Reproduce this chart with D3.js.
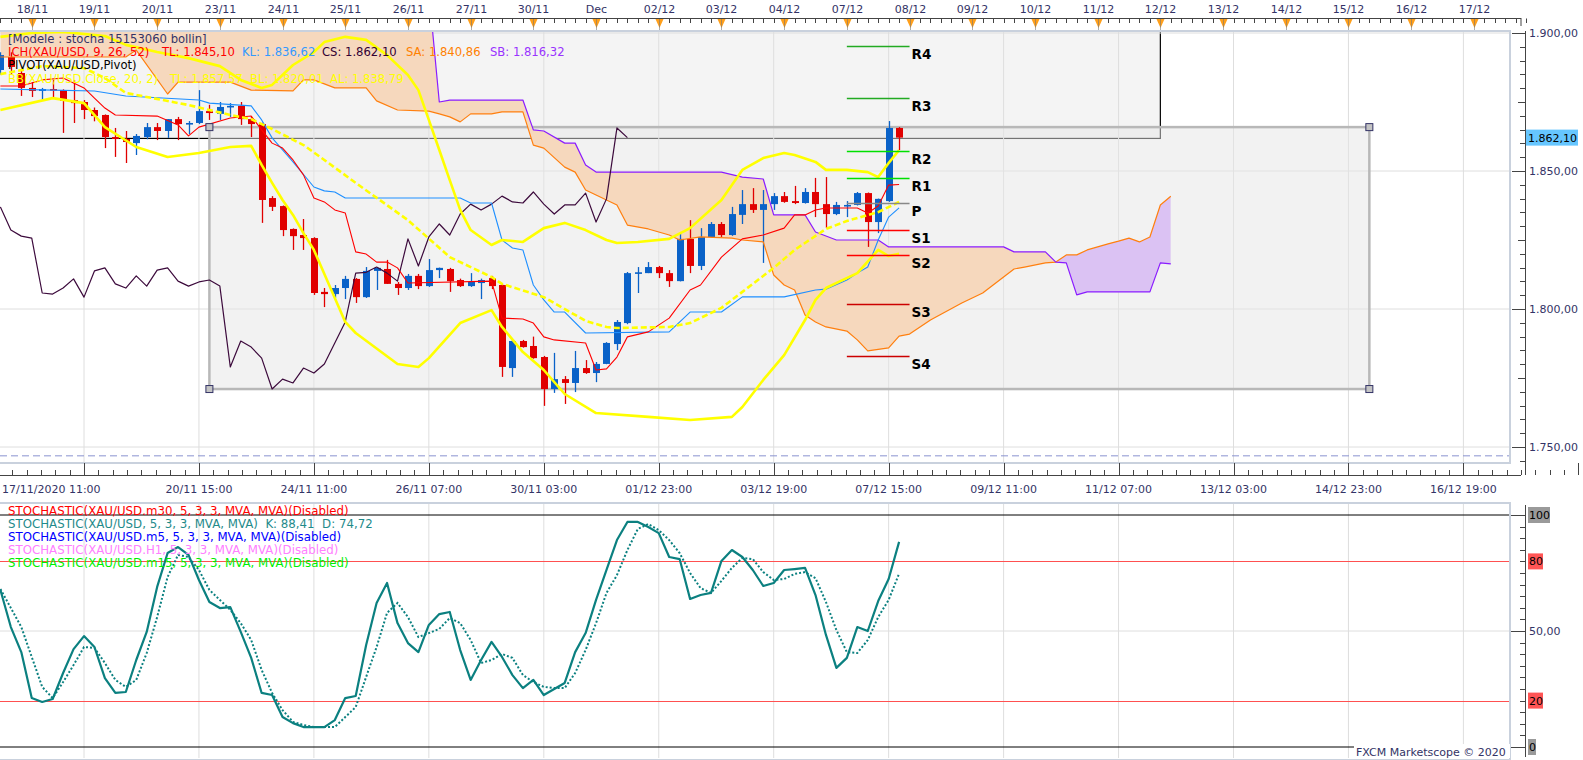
<!DOCTYPE html>
<html>
<head>
<meta charset="utf-8">
<script src="https://cdn.jsdelivr.net/npm/d3@7"></script>
<style>
  body { margin: 0; background: #fff; }
  svg { display: block; }
  text { font-family: "DejaVu Sans", Verdana, sans-serif; }
</style>
</head>
<body>
<svg id="chart" width="1583" height="760"></svg>
<script>
// XAU/USD 4h bars. Bar index 0 sits on the first vertical grid line.
const firstBar = -8;
const opens = [1886.6, 1891.3, 1885.5, 1880.1, 1879.0, 1879.7, 1879.3, 1875.7,
  1875.0, 1872.1, 1870.3, 1862.3, 1861.6, 1860.1, 1862.3, 1865.9, 1864.5, 1868.8,
  1867.0, 1867.4, 1871.7, 1870.7, 1873.2, 1873.6, 1868.8, 1867.0, 1840.2, 1837.3,
  1829.0, 1826.8, 1825.7, 1806.2, 1805.4, 1807.6, 1810.9, 1804.3, 1813.8, 1814.5,
  1809.1, 1807.6, 1812.0, 1808.3, 1814.1, 1814.5, 1810.5, 1808.3, 1809.4, 1811.2,
  1808.7, 1778.6, 1788.4, 1786.6, 1782.6, 1771.0, 1774.6, 1773.2, 1778.6, 1776.8,
  1780.1, 1787.3, 1794.9, 1813.0, 1813.0, 1815.2, 1813.0, 1810.1, 1825.4, 1815.6,
  1826.1, 1830.8, 1826.8, 1834.1, 1838.0, 1835.9, 1838.0, 1840.9, 1839.1, 1838.4,
  1842.4, 1838.0, 1834.4, 1837.5, 1837.7, 1842.0, 1831.5, 1839.1, 1865.6];
const highs = [1893.0, 1893.0, 1886.6, 1882.2, 1880.1, 1883.0, 1879.6, 1883.0,
  1875.7, 1873.0, 1870.5, 1865.6, 1864.5, 1863.4, 1867.4, 1867.4, 1868.8, 1869.6,
  1868.1, 1879.3, 1874.0, 1875.0, 1874.6, 1875.0, 1869.6, 1867.5, 1840.9, 1837.5,
  1829.2, 1832.6, 1826.0, 1807.6, 1808.7, 1812.0, 1811.2, 1815.2, 1815.2, 1817.8,
  1809.8, 1812.7, 1812.7, 1818.1, 1815.0, 1814.9, 1811.0, 1813.0, 1811.0, 1812.0,
  1809.0, 1788.6, 1788.8, 1790.0, 1783.0, 1784.1, 1775.7, 1784.8, 1781.5, 1780.8,
  1788.0, 1796.0, 1813.4, 1815.2, 1817.0, 1815.6, 1814.1, 1827.5, 1832.2, 1829.3,
  1831.5, 1831.5, 1837.0, 1843.1, 1843.8, 1843.1, 1842.0, 1842.4, 1844.6, 1843.8,
  1847.5, 1847.8, 1838.8, 1839.1, 1842.4, 1842.2, 1840.0, 1868.1, 1865.9];
const lows = [1885.0, 1885.0, 1877.2, 1876.8, 1875.7, 1876.4, 1863.8, 1867.4,
  1868.8, 1868.0, 1858.3, 1855.1, 1852.9, 1855.8, 1861.5, 1861.2, 1862.0, 1861.2,
  1863.4, 1867.0, 1868.5, 1868.5, 1869.6, 1866.7, 1862.3, 1831.2, 1835.5, 1826.4,
  1821.4, 1821.4, 1805.1, 1800.7, 1804.0, 1803.6, 1802.2, 1804.0, 1806.9, 1809.1,
  1805.1, 1806.9, 1807.2, 1808.0, 1811.2, 1806.2, 1808.0, 1808.0, 1803.6, 1807.2,
  1775.4, 1775.4, 1786.0, 1782.0, 1764.9, 1769.6, 1765.6, 1769.9, 1776.5, 1773.5,
  1780.0, 1785.1, 1794.5, 1805.8, 1813.0, 1811.2, 1808.0, 1810.0, 1813.0, 1814.1,
  1826.0, 1826.1, 1826.5, 1830.8, 1834.8, 1816.7, 1835.9, 1838.5, 1838.0, 1838.2,
  1833.3, 1829.3, 1834.0, 1833.3, 1837.5, 1822.5, 1827.5, 1838.8, 1857.6];
const closes = [1892.0, 1887.7, 1880.1, 1879.0, 1879.7, 1879.3, 1875.4, 1874.6,
  1872.1, 1869.9, 1862.3, 1861.6, 1860.5, 1862.7, 1865.9, 1864.5, 1868.8, 1867.0,
  1867.4, 1871.7, 1871.0, 1873.2, 1873.6, 1868.8, 1867.0, 1839.5, 1837.0, 1828.6,
  1826.4, 1825.7, 1805.8, 1805.4, 1807.6, 1810.9, 1804.3, 1813.8, 1814.9, 1809.1,
  1807.6, 1812.0, 1808.3, 1814.1, 1814.9, 1810.1, 1808.3, 1809.8, 1810.5, 1808.3,
  1779.0, 1788.4, 1786.2, 1782.2, 1771.0, 1774.6, 1773.2, 1778.6, 1776.8, 1780.1,
  1787.7, 1795.3, 1813.0, 1813.3, 1815.2, 1813.0, 1810.1, 1825.4, 1815.6, 1826.1,
  1830.8, 1826.8, 1834.4, 1838.0, 1835.9, 1838.0, 1840.9, 1838.8, 1838.4, 1842.4,
  1838.0, 1834.4, 1837.7, 1837.7, 1842.0, 1831.5, 1839.9, 1865.6, 1862.1];

// Ichimoku lines as [bar, price]
const tenkan = [[-8,1880.8],[-6,1880.8],[-4,1883.0],[-2,1883.7],[0,1880.1],[1,1876.4],[2,1872.8],[3,1870.3],
  [7,1869.9],[9,1866.7],[10,1862.7],[11,1865.9],[14,1869.2],[16,1869.9],[17,1864.9],[18,1860.1],[19,1858.3],
  [20,1854.0],[21,1848.6],[22,1840.2],[23,1838.8],[24,1835.9],[25,1834.8],[26,1820.7],[27,1819.9],[28,1817.0],
  [29,1817.0],[30,1814.9],[31,1809.4],[39,1810.1],[40,1796.7],[42,1796.4],[43,1794.9],[44,1789.9],[45,1788.8],
  [48,1787.7],[49,1777.9],[50,1778.3],[51,1782.6],[52,1789.9],[54,1791.7],[56,1796.7],[58,1806.9],[59,1808.7],
  [61,1818.8],[63,1825.4],[65,1826.8],[67,1829.3],[68,1834.1],[69,1834.1],[70,1835.9],[71,1836.6],[74,1836.6],
  [75,1834.8],[76,1837.3],[77,1844.9],[78,1845.10]];
const kijun = [[-8,1879.7],[-3,1879.3],[1,1879.0],[4,1877.2],[11,1875.7],[12,1874.6],[16,1873.6],[17,1868.5],
  [18,1862.0],[20,1853.3],[22,1844.2],[23,1842.8],[24,1842.4],[25,1840.2],[36,1840.2],[37,1838.4],[39,1838.4],
  [40,1825.0],[41,1822.1],[42,1821.4],[43,1808.7],[44,1803.3],[45,1798.9],[46,1798.9],[48,1791.3],[56,1791.7],
  [58,1798.9],[61,1798.9],[63,1804.4],[67,1804.4],[70,1806.9],[71,1807.2],[73,1810.5],[74,1813.0],[75,1815.2],
  [76,1825.0],[77,1833.3],[78,1836.62]];
const senkouA = [[-8,1891.3],[4,1891.3],[5,1893.8],[8,1877.9],[9,1882.2],[14,1882.2],[16,1879.3],[20,1879.0],
  [21,1883.0],[22,1883.0],[24,1880.1],[27,1880.1],[28,1875.4],[30,1872.1],[33,1871.7],[34,1870.7],[35,1869.6],
  [36,1867.8],[37,1870.7],[39,1870.7],[40,1871.4],[42,1871.4],[43,1859.4],[44,1858.3],[46,1851.4],[47,1849.6],
  [48,1843.1],[49,1841.3],[50,1839.5],[51,1837.7],[52,1830.4],[54,1829.0],[56,1826.8],[57,1825.0],[59,1826.1],
  [62,1825.7],[63,1825.0],[65,1824.3],[66,1812.3],[67,1808.7],[68,1806.9],[69,1797.8],[70,1795.3],[71,1793.5],
  [73,1792.0],[74,1788.8],[75,1784.8],[77,1785.9],[78,1790.2],[79,1790.9],[81,1796.0],[84,1802.2],[86,1805.8],
  [88,1811.6],[89,1814.5],[90,1815.2],[92,1816.7],[93,1817.0],[94,1819.6],[95,1819.6],[96,1821.4],[97,1822.5],
  [98,1823.6],[99,1824.6],[100,1825.7],[101,1824.3],[102,1826.1],[103,1837.7],[104,1840.86]];
const senkouB = [[-8,1915],[33,1915],[34,1875.0],[35,1875.7],[42,1875.7],[43,1864.9],[44,1864.5],[46,1860.1],
  [47,1860.1],[48,1852.2],[49,1849.6],[61,1849.6],[63,1847.8],[65,1847.1],[66,1834.1],[69,1834.1],[70,1827.9],
  [72,1825.0],[76,1825.0],[77,1822.5],[88,1822.5],[89,1820.7],[92,1820.7],[93,1817.0],[94,1816.7],[95,1805.1],
  [96,1806.2],[102,1806.2],[103,1816.7],[104,1816.32]];

// Bollinger bands (20, 2) as [bar, price]
const bbUpper = [[-8,1898.6],[-5,1900.0],[-2,1900.4],[2,1898.9],[4,1895.7],[7,1893.1],[10,1890.9],[13,1888.0],
  [15,1883.0],[17,1880.1],[18,1881.2],[20,1888.4],[22,1893.1],[23,1896.7],[25,1898.6],[27,1897.5],[29,1892.0],
  [31,1884.8],[32,1879.3],[33,1868.5],[34,1857.6],[35,1846.7],[36,1835.9],[37,1828.6],[39,1823.2],[40,1825.0],
  [42,1824.3],[44,1829.3],[46,1831.2],[48,1828.6],[50,1825.0],[51,1823.9],[53,1824.3],[56,1825.4],[58,1829.3],
  [61,1839.5],[63,1850.4],[65,1854.7],[67,1856.5],[68,1855.8],[70,1853.3],[71,1850.4],[73,1850.4],[75,1849.6],
  [76,1847.8],[77,1852.9],[78,1857.57]];
const bbMiddle = [[-8,1885.1],[-4,1888.0],[0,1887.3],[2,1883.7],[4,1878.3],[10,1873.9],[12,1872.1],[14,1870.3],
  [16,1868.8],[18,1865.2],[21,1859.4],[23,1854.0],[26,1845.7],[31,1832.2],[35,1818.8],[39,1811.6],[40,1809.1],
  [44,1804.3],[48,1795.7],[50,1793.5],[51,1793.1],[56,1793.5],[58,1794.9],[61,1800.4],[63,1806.2],[66,1814.9],
  [68,1821.4],[71,1829.0],[73,1831.9],[76,1835.1],[78,1838.79]];
const bbLower = [[-8,1872.1],[-3,1876.4],[0,1874.6],[2,1865.9],[5,1858.7],[8,1855.1],[11,1856.5],[14,1858.7],
  [16,1859.1],[17,1852.2],[18,1845.7],[19,1839.5],[20,1834.1],[21,1827.5],[22,1821.4],[25,1795.3],[26,1791.3],
  [30,1780.1],[32,1779.0],[33,1782.2],[36,1794.9],[39,1799.6],[40,1793.5],[42,1784.4],[44,1777.9],[46,1769.2],
  [49,1762.3],[54,1760.9],[58,1759.8],[62,1760.9],[63,1764.5],[65,1774.3],[67,1783.3],[69,1796.0],[70,1803.3],
  [71,1807.6],[74,1813.0],[76,1821.4],[77,1819.2],[78,1820.01]];

// Pivot levels for the 07/12 session
const pivotNames = ['R4', 'R3', 'R2', 'R1', 'P', 'S1', 'S2', 'S3', 'S4'];
const pivotLevels = [1895.3, 1876.6, 1857.2, 1847.4, 1838.3, 1828.6, 1819.6, 1801.8, 1783.0];
const pivotBars = [73, 79];

// user drawings: [bar from, bar to, price high, price low]
const drawnBoxes = [[-20, 103, 1910, 1861.8], [12, 123, 1865.9, 1771.0]];
const guideLevel = 1746.8;

// Stochastic (5,3,3) from bar -8 to 78
const stochK = [67.7,51.7,40.9,21.1,19.4,20.7,31.9,42.2,
  47.8,43.1,29.7,23.3,23.7,37.5,49.6,69.0,83.6,86.2,
  82.8,72.0,62.5,59.9,60.3,49.6,38.4,23.3,22.4,12.9,
  10.3,8.6,8.6,8.6,11.6,21.1,22.0,44.0,62.1,70.7,
  53.4,44.8,40.9,52.6,57.3,58.2,41.8,28.9,37.5,45.3,
  38.8,31.0,25.4,28.9,22.4,25.0,27.6,40.9,49.1,63.4,
  76.3,89.2,97.0,97.0,94.8,92.2,81.9,81.0,63.8,65.5,
  66.4,80.2,84.9,81.9,76.3,69.4,70.7,76.3,76.7,77.2,
  65.5,48.3,34.1,38.4,51.7,50.0,62.9,72.4,88.41];
const stochD = [68.1,59.9,51.7,38.8,25.9,21.1,28.0,35.3,
  43.1,42.7,36.2,28.9,25.9,28.9,40.5,56.0,73.3,82.8,
  81.9,76.3,67.7,63.4,59.1,53.4,46.1,33.2,23.3,15.9,
  10.8,9.5,8.6,8.6,8.6,12.9,17.2,30.2,43.1,57.8,
  62.1,56.0,47.4,49.1,50.9,55.6,53.4,46.1,36.2,37.5,
  40.1,38.4,31.0,28.0,25.9,25.4,25.4,31.9,41.8,53.4,
  66.4,74.1,84.9,94.0,96.1,93.5,89.2,83.6,75.0,68.5,
  66.4,71.6,77.2,81.5,81.0,75.4,72.0,72.4,74.6,75.4,
  72.8,62.5,50.4,40.9,40.5,46.1,56.0,63.4,74.72];
const stochLevels = [20, 80];

// axis labels
const dayLabels = ['18/11','19/11','20/11','23/11','24/11','25/11','26/11','27/11','30/11','Dec',
  '02/12','03/12','04/12','07/12','08/12','09/12','10/12','11/12','12/12','13/12','14/12','15/12','16/12','17/12'];
const firstDayBar = -5;
const timeLabels = ['20/11 15:00','24/11 11:00','26/11 07:00','30/11 03:00','01/12 23:00','03/12 19:00',
  '07/12 15:00','09/12 11:00','11/12 07:00','13/12 03:00','14/12 23:00','16/12 19:00'];
const startLabel = '17/11/2020 11:00';
const priceTicks = [1750, 1800, 1850, 1900];

const lastBar = firstBar + closes.length - 1;
const num = d3.formatLocale({decimal: ',', thousands: '.', grouping: [3], currency: ['', '']});
const fmtPrice = num.format(',.2f');
const fmtVal = num.format('.2f');
const gap = '\u00a0\u00a0';

const x = d3.scaleLinear().domain([0, 132]).range([84, 84 + 132 * 10.45]);
const y = d3.scaleLinear().domain([1750, 1900]).range([447, 33]);
const ys = d3.scaleLinear().domain([0, 100]).range([747, 515]);

const navy = '#333366';
const svg = d3.select('#chart');
const defs = svg.append('defs');
defs.append('clipPath').attr('id', 'clipMain').append('rect')
  .attr('x', 0).attr('y', 31).attr('width', 1510).attr('height', 432);
defs.append('clipPath').attr('id', 'clipSto').append('rect')
  .attr('x', 0).attr('y', 503).attr('width', 1510).attr('height', 255);

const priceLine = d3.line().x(d => x(d[0])).y(d => y(d[1]));

// ---------- top date axis ----------
const topAxis = svg.append('g');
topAxis.append('line').attr('x1', 0).attr('x2', 1521).attr('y1', 18.5).attr('y2', 18.5).attr('stroke', '#444');
topAxis.append('line').attr('x1', 1521).attr('x2', 1521).attr('y1', 18).attr('y2', 26).attr('stroke', '#444');
topAxis.selectAll('.minor').data(d3.range(firstBar, 139)).join('line')
  .attr('x1', d => Math.round(x(d)) + 0.5).attr('x2', d => Math.round(x(d)) + 0.5)
  .attr('y1', 18.5).attr('y2', 23).attr('stroke', '#444');
const dayMark = topAxis.selectAll('.day').data(dayLabels).join('g')
  .attr('transform', (d, i) => `translate(${Math.round(x(firstDayBar + 6 * i)) + 0.5},0)`);
dayMark.append('path').attr('d', 'M-4,19L4,19L0,28Z').attr('fill', '#ff9f1a');
dayMark.append('line').attr('y1', 19).attr('y2', 30).attr('stroke', '#777').attr('stroke-width', 0.6);
dayMark.append('text').attr('y', 13).attr('text-anchor', 'middle')
  .attr('font-size', 11).attr('fill', navy).text(d => d);

// ---------- main panel ----------
const plot = svg.append('g').attr('clip-path', 'url(#clipMain)');
const boxA = drawnBoxes[0], boxB = drawnBoxes[1];
plot.append('rect').attr('x', x(boxA[0])).attr('y', y(boxA[2]))
  .attr('width', x(boxA[1]) - x(boxA[0])).attr('height', y(boxA[3]) - y(boxA[2]))
  .attr('fill', '#f4f4f4').attr('stroke', '#000').attr('stroke-width', 1.2);

plot.selectAll('.vgrid').data(d3.range(0, 133, 11)).join('line')
  .attr('x1', d => x(d)).attr('x2', d => x(d)).attr('y1', 31).attr('y2', 463)
  .attr('stroke', '#dedede');
plot.selectAll('.hgrid').data(priceTicks).join('line')
  .attr('x1', 0).attr('x2', 1510).attr('y1', d => y(d)).attr('y2', d => y(d))
  .attr('stroke', '#dedede');

plot.append('rect').attr('x', x(boxB[0])).attr('y', y(boxB[2]))
  .attr('width', x(boxB[1]) - x(boxB[0])).attr('height', y(boxB[3]) - y(boxB[2]))
  .attr('fill', 'rgba(229,229,229,0.5)').attr('stroke', '#b8b8b8').attr('stroke-width', 2.5);

// Kumo cloud
const areaTo = lim => d3.area().x(d => x(d[0])).y0(d => y(d[1])).y1(y(lim));
defs.append('clipPath').attr('id', 'belowB').append('path').attr('d', areaTo(1700)(senkouB));
defs.append('clipPath').attr('id', 'aboveB').append('path').attr('d', areaTo(1960)(senkouB));
plot.append('g').attr('clip-path', 'url(#belowB)').append('path')
  .attr('d', areaTo(1960)(senkouA)).attr('fill', '#f6d8bd');
plot.append('g').attr('clip-path', 'url(#aboveB)').append('path')
  .attr('d', areaTo(1700)(senkouA)).attr('fill', '#dbc2f3');

// candles
const bars = opens.map((o, i) => ({k: firstBar + i, o, h: highs[i], l: lows[i], c: closes[i]}));
const candleColor = d => d.c >= d.o ? '#0a62c8' : '#e00000';
const candle = plot.append('g').selectAll('g').data(bars).join('g')
  .attr('transform', d => `translate(${Math.round(x(d.k))},0)`);
candle.append('line').attr('x1', 0.5).attr('x2', 0.5)
  .attr('y1', d => y(d.h)).attr('y2', d => y(d.l)).attr('stroke', candleColor).attr('stroke-width', 1.3);
candle.append('rect').attr('x', -3).attr('width', 7)
  .attr('y', d => y(Math.max(d.o, d.c)))
  .attr('height', d => Math.max(1.6, Math.abs(y(d.o) - y(d.c))))
  .attr('fill', candleColor);

// indicator lines
const chikou = bars.filter(b => b.k + 26 <= lastBar).map(b => [b.k, closes[b.k + 26 - firstBar]]);
const lines = [
  [senkouA, '#ff7f0e', 1.2, null],
  [senkouB, '#8a1cff', 1.2, null],
  [chikou, '#3c0a3c', 1.2, null],
  [kijun, '#1e8fff', 1.1, null],
  [tenkan, '#ff0000', 1.1, null],
  [bbUpper, '#ffff00', 2.6, null],
  [bbLower, '#ffff00', 2.6, null],
  [bbMiddle, '#ffff00', 2.6, '6,3']
];
plot.selectAll('.ind').data(lines).join('path')
  .attr('d', d => priceLine(d[0])).attr('fill', 'none')
  .attr('stroke', d => d[1]).attr('stroke-width', d => d[2])
  .attr('stroke-dasharray', d => d[3]).attr('stroke-linejoin', 'round');

// pivots
const pivotColor = ['#22aa22', '#22aa22', '#00e000', '#00e000', '#888888', '#ff0000', '#ff0000', '#cc0000', '#cc0000'];
const piv = plot.selectAll('.piv').data(pivotLevels).join('g');
piv.append('line').attr('x1', x(pivotBars[0])).attr('x2', x(pivotBars[1]))
  .attr('y1', d => Math.round(y(d)) + 0.5).attr('y2', d => Math.round(y(d)) + 0.5)
  .attr('stroke', (d, i) => pivotColor[i]).attr('stroke-width', 1.3);
piv.append('text').attr('x', x(pivotBars[1]) + 2).attr('y', d => y(d) + 13)
  .attr('font-family', '"Liberation Sans", Arial, sans-serif').attr('font-weight', 'bold')
  .attr('font-size', 13.5).attr('fill', '#000').text((d, i) => pivotNames[i]);

// drawing handles of second box
const corners = [[boxB[0], boxB[2]], [boxB[1], boxB[2]], [boxB[0], boxB[3]], [boxB[1], boxB[3]]];
plot.selectAll('.handle').data(corners).join('rect')
  .attr('x', d => x(d[0]) - 3.5).attr('y', d => y(d[1]) - 3.5).attr('width', 7).attr('height', 7)
  .attr('fill', '#c4c4c4').attr('stroke', '#333366');

plot.append('line').attr('x1', 0).attr('x2', 1510)
  .attr('y1', y(guideLevel)).attr('y2', y(guideLevel))
  .attr('stroke', '#8a93d0').attr('stroke-dasharray', '7,4');

// main legend
const legend = svg.append('g').attr('font-size', 11.6);
legend.append('text').attr('x', 8).attr('y', 43).attr('fill', navy).text('[Modele : stocha 15153060 bollin]');
const ichParts = [
  ['ICH(XAU/USD, 9, 26, 52)', '#ff0000', 8],
  ['TL: ' + fmtPrice(tenkan[tenkan.length - 1][1]), '#ff0000', 162],
  ['KL: ' + fmtPrice(kijun[kijun.length - 1][1]), '#3399ff', 242],
  ['CS: ' + fmtPrice(closes[closes.length - 1]), '#330033', 322],
  ['SA: ' + fmtPrice(senkouA[senkouA.length - 1][1]), '#ff8000', 406],
  ['SB: ' + fmtPrice(senkouB[senkouB.length - 1][1]), '#9933ff', 490]
];
legend.selectAll('.ich').data(ichParts).join('text')
  .attr('x', d => d[2]).attr('y', 56).attr('fill', d => d[1]).text(d => d[0]);
legend.append('text').attr('x', 8).attr('y', 69).attr('fill', '#000').text('PIVOT(XAU/USD,Pivot)');
const bbParts = [
  ['BB(XAU/USD.Close, 20, 2)', 8],
  ['TL: ' + fmtPrice(bbUpper[bbUpper.length - 1][1]), 170],
  ['BL: ' + fmtPrice(bbLower[bbLower.length - 1][1]), 250],
  ['AL: ' + fmtPrice(bbMiddle[bbMiddle.length - 1][1]), 330]
];
legend.selectAll('.bb').data(bbParts).join('text')
  .attr('x', d => d[1]).attr('y', 83).attr('fill', '#ffff00').text(d => d[0]);

// panel frames
svg.append('rect').attr('x', -2).attr('y', 31).attr('width', 1512).attr('height', 432)
  .attr('fill', 'none').attr('stroke', '#c9d1dd').attr('stroke-width', 2);

// price axis
const pAxis = svg.append('g');
pAxis.append('line').attr('x1', 1525.5).attr('x2', 1525.5).attr('y1', 31).attr('y2', 475).attr('stroke', '#444');
pAxis.selectAll('.pt').data(d3.range(1745, 1901, 5)).join('line')
  .attr('x1', d => d % 50 === 0 ? 1512 : (d % 25 === 0 ? 1518 : 1520)).attr('x2', 1525)
  .attr('y1', d => Math.round(y(d)) + 0.5).attr('y2', d => Math.round(y(d)) + 0.5).attr('stroke', '#444');
pAxis.selectAll('.pl').data(priceTicks).join('text')
  .attr('x', 1529).attr('y', d => y(d) + 4).attr('font-size', 11).attr('fill', navy).text(d => fmtPrice(d));
const lastClose = closes[closes.length - 1];
pAxis.append('rect').attr('x', 1526).attr('y', y(lastClose) - 8).attr('width', 52).attr('height', 16).attr('fill', '#66c6ff');
pAxis.append('text').attr('x', 1528).attr('y', y(lastClose) + 4).attr('font-size', 11).attr('fill', '#000')
  .text(fmtPrice(lastClose));

// bottom time axis
const tAxis = svg.append('g');
tAxis.append('line').attr('x1', 0).attr('x2', 1521).attr('y1', 475.5).attr('y2', 475.5).attr('stroke', '#444');
tAxis.selectAll('.tm').data(d3.range(-8, 140)).join('line')
  .attr('x1', d => Math.round(x(d * 11 / 8)) + 0.5).attr('x2', d => Math.round(x(d * 11 / 8)) + 0.5)
  .attr('y1', d => d % 8 === 0 ? 463 : 470).attr('y2', 475).attr('stroke', '#444');
tAxis.selectAll('.tl').data(timeLabels).join('text')
  .attr('x', (d, i) => x(11 * (i + 1))).attr('y', 493).attr('text-anchor', 'middle')
  .attr('font-size', 11).attr('fill', navy).text(d => d);
tAxis.append('text').attr('x', 2).attr('y', 493).attr('font-size', 11).attr('fill', navy).text(startLabel);

// ---------- stochastic panel ----------
const sto = svg.append('g').attr('clip-path', 'url(#clipSto)');
sto.selectAll('.vg').data(d3.range(0, 133, 11)).join('line')
  .attr('x1', d => x(d)).attr('x2', d => x(d)).attr('y1', 503).attr('y2', 758).attr('stroke', '#dedede');
sto.append('line').attr('x1', 0).attr('x2', 1510).attr('y1', ys(50)).attr('y2', ys(50)).attr('stroke', '#dedede');
sto.append('line').attr('x1', 0).attr('x2', 1510).attr('y1', ys(100)).attr('y2', ys(100)).attr('stroke', '#000');
sto.append('line').attr('x1', 0).attr('x2', 1354).attr('y1', ys(0)).attr('y2', ys(0)).attr('stroke', '#000');
sto.selectAll('.lvl').data(stochLevels).join('line')
  .attr('x1', 0).attr('x2', 1510).attr('y1', d => Math.round(ys(d)) + 0.5).attr('y2', d => Math.round(ys(d)) + 0.5)
  .attr('stroke', '#ff5050');
const stoLine = d3.line().x(d => x(d[0])).y(d => ys(d[1]));
sto.append('path').attr('d', stoLine(stochD.map((v, i) => [firstBar + i, v])))
  .attr('fill', 'none').attr('stroke', '#0b8080').attr('stroke-width', 2).attr('stroke-dasharray', '2,2');
sto.append('path').attr('d', stoLine(stochK.map((v, i) => [firstBar + i, v])))
  .attr('fill', 'none').attr('stroke', '#0b8080').attr('stroke-width', 2.2).attr('stroke-linejoin', 'round');

const stoLegend = [
  ['STOCHASTIC(XAU/USD.m30, 5, 3, 3, MVA, MVA)(Disabled)', '#ff0000'],
  ['STOCHASTIC(XAU/USD, 5, 3, 3, MVA, MVA)' + gap + 'K: ' + fmtVal(stochK[stochK.length - 1]) +
    gap + 'D: ' + fmtVal(stochD[stochD.length - 1]), '#1f8b8b'],
  ['STOCHASTIC(XAU/USD.m5, 5, 3, 3, MVA, MVA)(Disabled)', '#0000ff'],
  ['STOCHASTIC(XAU/USD.H1, 5, 3, 3, MVA, MVA)(Disabled)', '#ff80ff'],
  ['STOCHASTIC(XAU/USD.m15, 5, 3, 3, MVA, MVA)(Disabled)', '#00ee00']
];
svg.append('g').attr('font-size', 11.8).selectAll('text').data(stoLegend).join('text')
  .attr('x', 8).attr('y', (d, i) => 515 + 13 * i).attr('fill', d => d[1]).text(d => d[0]);

svg.append('rect').attr('x', -2).attr('y', 503).attr('width', 1512).attr('height', 257)
  .attr('fill', 'none').attr('stroke', '#c9d1dd').attr('stroke-width', 2);

const sAxis = svg.append('g');
sAxis.append('line').attr('x1', 1525.5).attr('x2', 1525.5).attr('y1', 505).attr('y2', 757).attr('stroke', '#444');
sAxis.selectAll('.st').data(d3.range(0, 101, 5)).join('line')
  .attr('x1', d => d % 50 === 0 ? 1511 : 1520).attr('x2', 1525)
  .attr('y1', d => Math.round(ys(d)) + 0.5).attr('y2', d => Math.round(ys(d)) + 0.5).attr('stroke', '#444');
const stoTicks = [[100, '100', '#9a9a9a'], [80, '80', '#ff5555'], [50, '50,00', null], [20, '20', '#ff5555'], [0, '0', '#9a9a9a']];
const sLab = sAxis.selectAll('.sl').data(stoTicks).join('g');
sLab.filter(d => d[2]).append('rect').attr('x', 1528).attr('y', d => ys(d[0]) - 8)
  .attr('width', d => d[1].length * 7 + 1).attr('height', 16).attr('fill', d => d[2]);
sLab.append('text').attr('x', 1529).attr('y', d => ys(d[0]) + 4).attr('font-size', 11)
  .attr('fill', d => d[2] ? '#000' : navy).text(d => d[1]);

svg.append('rect').attr('x', 1354).attr('y', 744).attr('width', 156).attr('height', 14).attr('fill', '#fff');
svg.append('text').attr('x', 1356).attr('y', 756).attr('font-size', 11).attr('fill', navy)
  .text('FXCM Marketscope © 2020');
</script>
</body>
</html>
